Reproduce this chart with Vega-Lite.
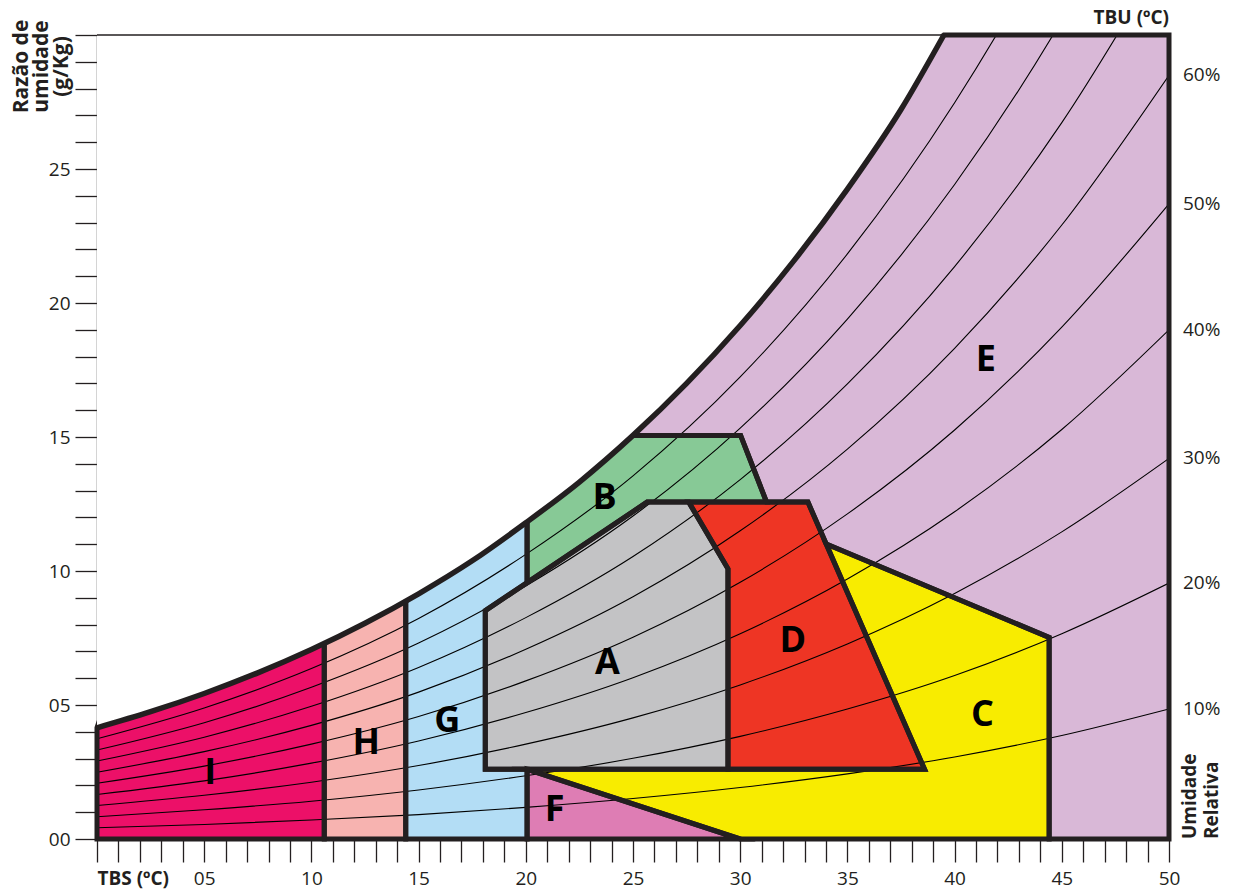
{
  "$schema": "https://vega.github.io/schema/vega-lite/v6.json",
  "width": 1072,
  "height": 804,
  "autosize": {"type": "none"},
  "padding": {"left": 97, "top": 35, "right": 66, "bottom": 53},
  "background": "white",
  "config": {
    "view": {"stroke": null},
    "font": "Open Sans",
    "axisX": {"tickCount": 50, "domain": false, "grid": false, "tickSize": 23, "tickColor": "#231f20", "tickWidth": 1.3,
      "labelFont": "Open Sans", "labelFontSize": 19, "labelColor": "#231f20", "labelPadding": 7, "labelOverlap": false, "labelBound": false, "labelFlush": false},
    "axisY": {"tickCount": 30, "domain": true, "domainColor": "#555555", "domainWidth": 1.5, "grid": false, "zindex": 1,
      "tickSize": 22, "tickColor": "#231f20", "tickWidth": 1.3,
      "labelFont": "Open Sans", "labelFontSize": 19, "labelColor": "#231f20", "labelPadding": 5, "labelOverlap": false, "labelFlush": false,
      "titleFont": "Open Sans", "titleFontSize": 21, "titleFontWeight": "bold", "titleColor": "#231f20",
      "titleAngle": 270, "titleAlign": "center", "titleBaseline": "top", "titleLineHeight": 20, "titleX": -87, "titleY": 31}
  },
  "datasets": {
    "zones": [
      {"zone": "A", "i": 0, "t": 23.77, "w": 2.6}, {"zone": "A", "i": 1, "t": 18.11, "w": 2.6}, {"zone": "A", "i": 2, "t": 18.11, "w": 8.52}, {"zone": "A", "i": 3, "t": 25.66, "w": 12.57}, {"zone": "A", "i": 4, "t": 27.6, "w": 12.57}, {"zone": "A", "i": 5, "t": 29.43, "w": 10.08}, {"zone": "A", "i": 6, "t": 29.43, "w": 2.6}, {"zone": "A", "i": 7, "t": 23.77, "w": 2.6},
      {"zone": "D", "i": 0, "t": 34, "w": 2.6}, {"zone": "D", "i": 1, "t": 29.43, "w": 2.6}, {"zone": "D", "i": 2, "t": 29.43, "w": 10.08}, {"zone": "D", "i": 3, "t": 27.6, "w": 12.57}, {"zone": "D", "i": 4, "t": 33.16, "w": 12.57}, {"zone": "D", "i": 5, "t": 38.6, "w": 2.6}, {"zone": "D", "i": 6, "t": 34, "w": 2.6},
      {"zone": "C", "i": 0, "t": 29, "w": 2.6}, {"zone": "C", "i": 1, "t": 38.6, "w": 2.6}, {"zone": "C", "i": 2, "t": 34.01, "w": 11.01}, {"zone": "C", "i": 3, "t": 44.41, "w": 7.52}, {"zone": "C", "i": 4, "t": 44.41, "w": 0}, {"zone": "C", "i": 5, "t": 30, "w": 0}, {"zone": "C", "i": 6, "t": 20.06, "w": 2.6}, {"zone": "C", "i": 7, "t": 29, "w": 2.6},
      {"zone": "E", "i": 0, "t": 50, "w": 15}, {"zone": "E", "i": 1, "t": 50, "w": 0}, {"zone": "E", "i": 2, "t": 44.41, "w": 0}, {"zone": "E", "i": 3, "t": 44.41, "w": 7.52}, {"zone": "E", "i": 4, "t": 34.01, "w": 11.01}, {"zone": "E", "i": 5, "t": 33.16, "w": 12.57}, {"zone": "E", "i": 6, "t": 31.23, "w": 12.57}, {"zone": "E", "i": 7, "t": 30.02, "w": 15.06}, {"zone": "E", "i": 8, "t": 25, "w": 15.06}, {"zone": "E", "i": 9, "t": 25, "w": 29}, {"zone": "E", "i": 10, "t": 38, "w": 29}, {"zone": "E", "i": 11, "t": 39.5, "w": 30}, {"zone": "E", "i": 12, "t": 50, "w": 30}, {"zone": "E", "i": 13, "t": 50, "w": 15},
      {"zone": "B", "i": 0, "t": 22, "w": 29}, {"zone": "B", "i": 1, "t": 25, "w": 29}, {"zone": "B", "i": 2, "t": 25, "w": 15.06}, {"zone": "B", "i": 3, "t": 30.02, "w": 15.06}, {"zone": "B", "i": 4, "t": 31.23, "w": 12.57}, {"zone": "B", "i": 5, "t": 25.66, "w": 12.57}, {"zone": "B", "i": 6, "t": 20.06, "w": 9.57}, {"zone": "B", "i": 7, "t": 20.06, "w": 29}, {"zone": "B", "i": 8, "t": 22, "w": 29},
      {"zone": "F", "i": 0, "t": 25, "w": 0}, {"zone": "F", "i": 1, "t": 20.06, "w": 0}, {"zone": "F", "i": 2, "t": 20.06, "w": 2.6}, {"zone": "F", "i": 3, "t": 30, "w": 0}, {"zone": "F", "i": 4, "t": 25, "w": 0},
      {"zone": "G", "i": 0, "t": 17, "w": 29}, {"zone": "G", "i": 1, "t": 20.06, "w": 29}, {"zone": "G", "i": 2, "t": 20.06, "w": 9.57}, {"zone": "G", "i": 3, "t": 18.11, "w": 8.52}, {"zone": "G", "i": 4, "t": 18.11, "w": 2.6}, {"zone": "G", "i": 5, "t": 20.06, "w": 2.6}, {"zone": "G", "i": 6, "t": 20.06, "w": 0}, {"zone": "G", "i": 7, "t": 14.4, "w": 0}, {"zone": "G", "i": 8, "t": 14.4, "w": 29}, {"zone": "G", "i": 9, "t": 17, "w": 29},
      {"zone": "H", "i": 0, "t": 12.5, "w": 29}, {"zone": "H", "i": 1, "t": 14.4, "w": 29}, {"zone": "H", "i": 2, "t": 14.4, "w": 0}, {"zone": "H", "i": 3, "t": 10.6, "w": 0}, {"zone": "H", "i": 4, "t": 10.6, "w": 29}, {"zone": "H", "i": 5, "t": 12.5, "w": 29},
      {"zone": "I", "i": 0, "t": 5.3, "w": 16.58}, {"zone": "I", "i": 1, "t": 10.6, "w": 29}, {"zone": "I", "i": 2, "t": 10.6, "w": 0}, {"zone": "I", "i": 3, "t": 0, "w": 0}, {"zone": "I", "i": 4, "t": 0, "w": 4.15}, {"zone": "I", "i": 5, "t": 5.3, "w": 16.58}
    ],
    "sat": [
      {"t": 0, "w": 4.15}, {"t": 2.5, "w": 4.75}, {"t": 5, "w": 5.43}, {"t": 7.5, "w": 6.2}, {"t": 10, "w": 7.07}, {"t": 12.5, "w": 8.05}, {"t": 15, "w": 9.15}, {"t": 17.5, "w": 10.38}, {"t": 20, "w": 11.8}, {"t": 22.5, "w": 13.32}, {"t": 25, "w": 15.06}, {"t": 27.5, "w": 17.0}, {"t": 30, "w": 19.16}, {"t": 32.5, "w": 21.57}, {"t": 35, "w": 24.25}, {"t": 37.5, "w": 27.22}, {"t": 39.5, "w": 30}
    ],
    "rh": [
      {"rh": "10%", "t": 0, "w": 0.42}, {"rh": "10%", "t": 5, "w": 0.54}, {"rh": "10%", "t": 10, "w": 0.71}, {"rh": "10%", "t": 15, "w": 0.91}, {"rh": "10%", "t": 20, "w": 1.18}, {"rh": "10%", "t": 25, "w": 1.51}, {"rh": "10%", "t": 30, "w": 1.92}, {"rh": "10%", "t": 35, "w": 2.43}, {"rh": "10%", "t": 40, "w": 3.06}, {"rh": "10%", "t": 45, "w": 3.86}, {"rh": "10%", "t": 50, "w": 4.85},
      {"rh": "20%", "t": 0, "w": 0.83}, {"rh": "20%", "t": 5, "w": 1.09}, {"rh": "20%", "t": 10, "w": 1.41}, {"rh": "20%", "t": 15, "w": 1.83}, {"rh": "20%", "t": 20, "w": 2.36}, {"rh": "20%", "t": 25, "w": 3.01}, {"rh": "20%", "t": 30, "w": 3.83}, {"rh": "20%", "t": 35, "w": 4.85}, {"rh": "20%", "t": 40, "w": 6.1}, {"rh": "20%", "t": 45, "w": 7.66}, {"rh": "20%", "t": 50, "w": 9.55},
      {"rh": "30%", "t": 0, "w": 1.25}, {"rh": "30%", "t": 5, "w": 1.63}, {"rh": "30%", "t": 10, "w": 2.12}, {"rh": "30%", "t": 15, "w": 2.74}, {"rh": "30%", "t": 20, "w": 3.54}, {"rh": "30%", "t": 25, "w": 4.52}, {"rh": "30%", "t": 30, "w": 5.75}, {"rh": "30%", "t": 35, "w": 7.28}, {"rh": "30%", "t": 40, "w": 9.16}, {"rh": "30%", "t": 45, "w": 11.46}, {"rh": "30%", "t": 50, "w": 14.2},
      {"rh": "40%", "t": 0, "w": 1.66}, {"rh": "40%", "t": 5, "w": 2.17}, {"rh": "40%", "t": 10, "w": 2.83}, {"rh": "40%", "t": 15, "w": 3.66}, {"rh": "40%", "t": 20, "w": 4.72}, {"rh": "40%", "t": 25, "w": 6.02}, {"rh": "40%", "t": 30, "w": 7.66}, {"rh": "40%", "t": 35, "w": 9.7}, {"rh": "40%", "t": 40, "w": 12.21}, {"rh": "40%", "t": 45, "w": 15.28}, {"rh": "40%", "t": 50, "w": 19.0},
      {"rh": "50%", "t": 0, "w": 2.08}, {"rh": "50%", "t": 5, "w": 2.72}, {"rh": "50%", "t": 10, "w": 3.54}, {"rh": "50%", "t": 15, "w": 4.57}, {"rh": "50%", "t": 20, "w": 5.9}, {"rh": "50%", "t": 25, "w": 7.53}, {"rh": "50%", "t": 30, "w": 9.58}, {"rh": "50%", "t": 35, "w": 12.13}, {"rh": "50%", "t": 40, "w": 15.26}, {"rh": "50%", "t": 45, "w": 19.1}, {"rh": "50%", "t": 50, "w": 23.7},
      {"rh": "60%", "t": 0, "w": 2.49}, {"rh": "60%", "t": 5, "w": 3.26}, {"rh": "60%", "t": 10, "w": 4.24}, {"rh": "60%", "t": 15, "w": 5.48}, {"rh": "60%", "t": 20, "w": 7.08}, {"rh": "60%", "t": 25, "w": 9.04}, {"rh": "60%", "t": 30, "w": 11.5}, {"rh": "60%", "t": 35, "w": 14.55}, {"rh": "60%", "t": 40, "w": 18.31}, {"rh": "60%", "t": 45, "w": 22.91}, {"rh": "60%", "t": 50, "w": 28.5},
      {"rh": "70%", "t": 0, "w": 2.91}, {"rh": "70%", "t": 5, "w": 3.8}, {"rh": "70%", "t": 10, "w": 4.95}, {"rh": "70%", "t": 15, "w": 6.4}, {"rh": "70%", "t": 20, "w": 8.26}, {"rh": "70%", "t": 25, "w": 10.54}, {"rh": "70%", "t": 30, "w": 13.41}, {"rh": "70%", "t": 35, "w": 16.98}, {"rh": "70%", "t": 40, "w": 21.36}, {"rh": "70%", "t": 45, "w": 26.73}, {"rh": "70%", "t": 50, "w": 33.25},
      {"rh": "80%", "t": 0, "w": 3.32}, {"rh": "80%", "t": 5, "w": 4.34}, {"rh": "80%", "t": 10, "w": 5.66}, {"rh": "80%", "t": 15, "w": 7.31}, {"rh": "80%", "t": 20, "w": 9.44}, {"rh": "80%", "t": 25, "w": 12.05}, {"rh": "80%", "t": 30, "w": 15.33}, {"rh": "80%", "t": 35, "w": 19.4}, {"rh": "80%", "t": 40, "w": 24.42}, {"rh": "80%", "t": 45, "w": 30.55}, {"rh": "80%", "t": 50, "w": 38.0},
      {"rh": "90%", "t": 0, "w": 3.74}, {"rh": "90%", "t": 5, "w": 4.89}, {"rh": "90%", "t": 10, "w": 6.36}, {"rh": "90%", "t": 15, "w": 8.23}, {"rh": "90%", "t": 20, "w": 10.62}, {"rh": "90%", "t": 25, "w": 13.55}, {"rh": "90%", "t": 30, "w": 17.24}, {"rh": "90%", "t": 35, "w": 21.83}, {"rh": "90%", "t": 40, "w": 27.47}, {"rh": "90%", "t": 45, "w": 34.37}, {"rh": "90%", "t": 50, "w": 42.75}
    ],
    "letters": [
      {"zone": "A", "t": 23.81, "w": 6.58}, {"zone": "B", "t": 23.67, "w": 12.73}, {"zone": "C", "t": 41.3, "w": 4.63}, {"zone": "D", "t": 32.46, "w": 7.4}, {"zone": "E", "t": 41.46, "w": 17.89}, {"zone": "F", "t": 21.34, "w": 1.07}, {"zone": "G", "t": 16.34, "w": 4.41}, {"zone": "H", "t": 12.56, "w": 3.6}, {"zone": "I", "t": 5.28, "w": 2.48}
    ]
  },
  "layer": [
    {
      "data": {"name": "zones"},
      "mark": {"type": "line", "strokeOpacity": 0},
      "encoding": {
        "x": {"field": "t", "type": "quantitative", "scale": {"domain": [0, 50], "nice": false, "zero": false},
          "axis": {"orient": "bottom", "title": null, "tickCount": 50,
            "labelExpr": "datum.value == 0 ? 'TBS (ºC)' : (datum.value % 5 == 0 ? (datum.value < 10 ? '0' + datum.value : '' + datum.value) : '')",
            "labelFontWeight": {"condition": {"test": "datum.value == 0", "value": "bold"}, "value": "normal"},
            "labelAlign": {"condition": {"test": "datum.value == 0", "value": "left"}, "value": "center"}}},
        "y": {"field": "w", "type": "quantitative", "scale": {"domain": [0, 30], "nice": false, "zero": false},
          "axis": {"orient": "left", "tickCount": 30,
            "labelExpr": "datum.value % 5 == 0 && datum.value < 30 ? (datum.value < 10 ? '0' + datum.value : '' + datum.value) : ''",
            "title": ["Razão de", "umidade", "(g/Kg)"]}},
        "order": {"field": "i", "type": "quantitative"},
        "detail": {"field": "zone", "type": "nominal"},
        "fill": {"field": "zone", "type": "nominal", "legend": null,
          "scale": {"domain": ["A","B","C","D","E","F","G","H","I"], "range": ["#c3c3c5","#87c996","#f8ec00","#ee3524","#d9b8d7","#de7db4","#b3ddf5","#f7b3b0","#ec1068"]}}
      }
    },
    {
      "data": {"name": "rh"},
      "mark": {"type": "line", "interpolate": "monotone", "strokeWidth": 1.1, "color": "#000000", "clip": true},
      "encoding": {
        "x": {"field": "t", "type": "quantitative"},
        "y": {"field": "w", "type": "quantitative"},
        "detail": {"field": "rh", "type": "nominal"}
      }
    },
    {
      "data": {"name": "zones"},
      "mark": {"type": "line", "strokeWidth": 5, "color": "#231f20", "strokeJoin": "miter", "strokeMiterLimit": 10, "clip": false},
      "encoding": {
        "x": {"field": "t", "type": "quantitative"},
        "y": {"field": "w", "type": "quantitative"},
        "order": {"field": "i", "type": "quantitative"},
        "detail": {"field": "zone", "type": "nominal"}
      }
    },
    {
      "data": {"name": "sat"},
      "mark": {"type": "area", "interpolate": "monotone", "color": "#ffffff", "opacity": 1},
      "encoding": {
        "x": {"field": "t", "type": "quantitative"},
        "y": {"field": "w", "type": "quantitative"},
        "y2": {"datum": 30}
      }
    },
    {
      "data": {"values": [{}]},
      "mark": {"type": "rule", "color": "#231f20", "strokeWidth": 1.3},
      "encoding": {
        "x": {"datum": 0, "type": "quantitative"},
        "x2": {"datum": 39.5},
        "y": {"datum": 30, "type": "quantitative"}
      }
    },
    {
      "data": {"name": "sat"},
      "mark": {"type": "line", "interpolate": "monotone", "strokeWidth": 5.5, "color": "#231f20"},
      "encoding": {
        "x": {"field": "t", "type": "quantitative"},
        "y": {"field": "w", "type": "quantitative"}
      }
    },
    {
      "data": {"name": "letters"},
      "mark": {"type": "text", "font": "Open Sans", "fontSize": 36, "fontWeight": "bold", "color": "#000000", "align": "center", "baseline": "middle"},
      "encoding": {
        "x": {"field": "t", "type": "quantitative"},
        "y": {"field": "w", "type": "quantitative"},
        "text": {"field": "zone"}
      }
    },
    {
      "data": {"name": "rh"},
      "transform": [{"filter": "datum.t == 50 && datum.w < 30"}],
      "mark": {"type": "text", "font": "Open Sans", "fontSize": 19, "color": "#231f20", "align": "left", "baseline": "middle", "dx": 14},
      "encoding": {
        "x": {"field": "t", "type": "quantitative"},
        "y": {"field": "w", "type": "quantitative"},
        "text": {"field": "rh"}
      }
    },
    {
      "data": {"values": [{}]},
      "mark": {"type": "text", "font": "Open Sans", "fontSize": 19, "fontWeight": "bold", "color": "#231f20", "align": "right", "baseline": "alphabetic", "dy": -11, "text": "TBU (ºC)"},
      "encoding": {
        "x": {"datum": 50, "type": "quantitative"},
        "y": {"datum": 30, "type": "quantitative"}
      }
    },
    {
      "data": {"values": [{}]},
      "mark": {"type": "text", "font": "Open Sans", "fontSize": 19, "fontWeight": "bold", "color": "#231f20", "align": "left", "baseline": "top", "angle": 270, "dx": 0, "dy": 12, "lineHeight": 22, "text": ["Umidade", "Relativa"]},
      "encoding": {
        "x": {"datum": 50, "type": "quantitative"},
        "y": {"datum": 0, "type": "quantitative"}
      }
    }
  ]
}
